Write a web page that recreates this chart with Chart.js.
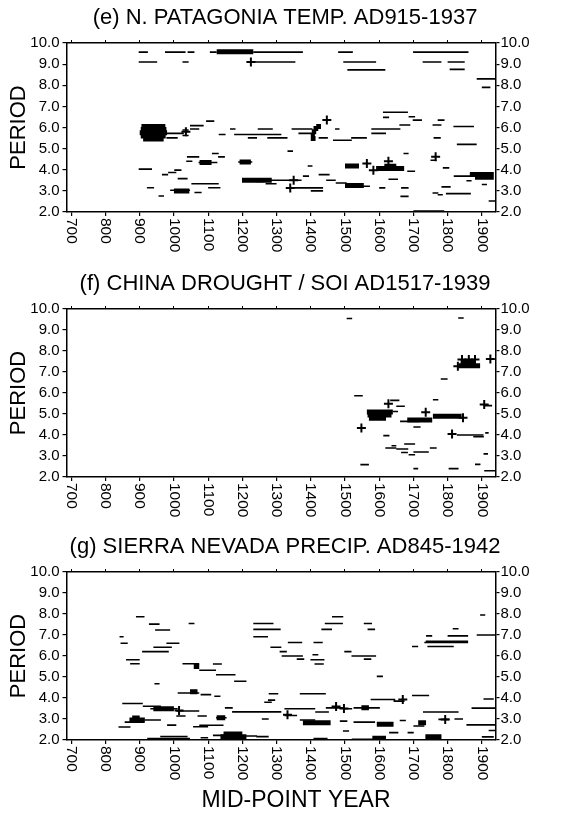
<!DOCTYPE html>
<html><head><meta charset="utf-8">
<script src="https://cdn.jsdelivr.net/npm/chart.js@4.4.1/dist/chart.umd.min.js"></script>
<style>
html,body{margin:0;padding:0;background:#fff;}
body{width:570px;height:815px;position:relative;overflow:hidden;}
canvas{position:absolute;left:0;}
</style></head><body>
<canvas id="cE" width="570" height="266" style="top:0px"></canvas>
<canvas id="cF" width="570" height="263" style="top:266px"></canvas>
<canvas id="cG" width="570" height="286" style="top:529px"></canvas>
<script>
// ---------- axes / labels ----------
const xTickValues = [700,800,900,1000,1100,1200,1300,1400,1500,1600,1700,1800,1900];
const yTickValues = [2,3,4,5,6,7,8,9,10];
const yTickLabels = ['2.0','3.0','4.0','5.0','6.0','7.0','8.0','9.0','10.0'];
const panelTitles = ['(e) N. PATAGONIA TEMP. AD915-1937','(f) CHINA DROUGHT / SOI AD1517-1939','(g) SIERRA NEVADA PRECIP. AD845-1942'];
const yTitle = 'PERIOD';
const xTitle = 'MID-POINT YEAR';

// ---------- panel (e): [startYear, endYear, period] ----------
const eThin = [
 [897,924,9.57],[974,1034,9.57],[1040,1060,9.57],[1105,1125,9.57],[1232,1377,9.57],
 [897,951,9.1],[1025,1043,9.1],[1225,1355,9.1],
 [1480,1523,9.57],[1495,1591,9.1],[1507,1618,8.73],
 [1699,1861,9.57],[1727,1782,9.1],[1800,1850,9.1],[1806,1850,8.75],[1885,1940,8.3],[1900,1925,7.9],
 [978,1029,5.72],[978,1011,5.51],[1025,1043,5.88],[1025,1043,5.62],[1047,1074,5.93],[1047,1087,6.09],[1094,1118,6.3],
 [1164,1180,5.93],[1131,1151,5.67],[1176,1314,5.67],[1216,1243,5.51],[1245,1289,5.93],[1273,1332,5.51],
 [1344,1405,5.93],[1364,1405,5.72],[1423,1450,5.51],[1471,1484,5.93],[1465,1520,5.4],[1518,1564,5.51],
 [1577,1662,5.93],[1577,1620,5.72],[1611,1684,6.72],[1611,1629,6.48],[1686,1705,6.51],[1698,1725,6.35],
 [1659,1691,6.12],[1771,1791,6.35],[1756,1782,6.12],[1817,1877,6.05],[1759,1780,5.51],[1827,1885,5.2],
 [1038,1074,4.61],[1036,1054,4.4],[1072,1127,4.34],[1111,1131,4.77],[1129,1149,4.61],[1188,1229,4.37],
 [897,936,4.03],[965,983,3.77],[983,1007,3.87],[1001,1022,3.98],[1011,1040,3.58],[1051,1131,3.34],
 [1100,1136,3.15],[921,942,3.15],[989,1047,3.03],[1060,1081,2.92],[955,971,2.76],
 [1199,1373,3.5],[1268,1300,3.34],[1377,1395,3.7],[1332,1436,3.14],[1400,1436,3.0],[1423,1455,3.77],
 [1445,1473,3.5],[1473,1505,3.37],[1527,1573,3.22],[1627,1655,3.55],[1600,1618,3.14],[1682,1705,3.93],
 [1671,1686,4.77],[1664,1686,3.14],[1662,1686,2.74],[1750,1768,4.45],[1786,1805,4.09],[1782,1809,3.19],
 [1756,1773,2.9],[1771,1786,2.82],[1795,1868,2.87],[1818,1870,3.7],[1855,1870,3.48],[1900,1915,3.3],
 [1700,1790,2.05],[1920,1940,2.52],[1332,1348,4.88],[1391,1405,4.18],[1240,1262,3.45]
];
const eThick = [
 [1125,1232,9.58],
 [905,975,6.05],[903,978,5.9],[900,980,5.75],[903,976,5.6],[910,970,5.45],
 [1400,1414,5.48],[1400,1412,5.62],[1403,1416,5.8],[1408,1422,5.95],[1416,1430,6.05],
 [1199,1286,3.5],[1500,1541,4.18],[1500,1555,3.26],[1591,1673,4.06],[1615,1650,4.16],
 [1865,1935,3.78],[1880,1935,3.65],[1075,1110,4.34],[1000,1045,3.0],[1192,1225,4.37]
];
const eCross = [[1225,9.1],[1035,5.8],[1447,6.35],[1350,3.5],[1564,4.29],[1583,3.98],[1627,4.4],[1765,4.61],[1340,3.14]];

// ---------- panel (f) ----------
const fThin = [
 [1505,1521,9.55],[1831,1847,9.57],[1780,1800,6.67],[1527,1552,5.87],[1632,1659,5.65],[1650,1675,5.37],
 [1757,1773,5.68],[1661,1718,4.65],[1700,1721,4.38],[1612,1630,3.97],[1827,1905,4.0],[1875,1906,3.92],
 [1910,1920,4.1],[1905,1930,5.4],[1618,1650,3.38],[1636,1650,3.49],[1650,1685,3.33],[1673,1705,3.57],
 [1664,1684,3.17],[1686,1705,3.06],[1700,1745,3.19],[1748,1768,3.38],[1545,1570,2.59],[1700,1714,2.4],
 [1803,1832,2.4],[1880,1896,2.6],[1907,1940,2.3],[1905,1918,3.1],[1640,1655,5.12]
];
const fThick = [
 [1564,1640,5.1],[1566,1636,4.95],[1570,1620,4.8],[1682,1755,4.72],[1757,1841,4.89],
 [1832,1895,7.3],[1838,1880,7.45]
];
const fCross = [[1627,5.49],[1736,5.08],[1548,4.33],[1813,4.05],[1907,5.45],[1845,4.82],[1830,7.27],[1842,7.6],[1862,7.6],[1880,7.6],[1925,7.62]];

// ---------- panel (g) ----------
const gThin = [
 [889,914,7.87],[927,958,7.52],[945,989,7.24],[1043,1060,7.55],[841,853,6.92],[844,865,6.61],
 [907,985,6.21],[940,994,6.42],[978,1016,6.61],[860,900,5.82],[872,900,5.63],[1025,1074,5.63],
 [1074,1123,5.32],[1114,1140,5.62],[1123,1180,5.11],[1176,1212,4.8],[943,958,4.68],[1011,1074,4.24],
 [1078,1109,4.16],[1118,1136,4.08],[1149,1172,3.53],[1170,1314,3.34],[849,909,3.74],[909,962,3.61],
 [931,1011,3.49],[1007,1074,3.38],[1007,1034,3.14],[1069,1096,3.14],[1123,1154,3.06],[838,873,2.62],
 [856,914,2.85],[914,962,2.95],[980,1007,2.71],[1056,1100,2.63],[1074,1145,2.7],[922,1047,2.07],
 [960,1040,2.17],[1078,1100,2.11],[1114,1154,2.22],[1190,1243,2.19],
 [1232,1291,7.55],[1232,1312,7.27],[1232,1275,6.92],[1462,1495,7.87],[1441,1494,7.55],[1431,1462,7.27],
 [1555,1579,7.55],[1566,1588,7.27],[1282,1314,6.42],[1333,1375,6.64],[1408,1435,6.64],[1309,1330,6.21],
 [1315,1377,6.0],[1359,1381,5.85],[1405,1422,6.06],[1399,1440,5.82],[1411,1438,5.62],[1498,1519,6.21],
 [1519,1591,6.0],[1555,1577,5.85],[1593,1611,5.03],[1696,1714,6.45],[1737,1755,6.96],[1800,1860,6.96],
 [1732,1860,6.64],[1736,1860,6.7],[1741,1818,6.45],[1815,1832,7.3],[1895,1910,7.95],[1885,1940,7.0],
 [1277,1305,4.2],[1368,1444,4.2],[1264,1286,3.8],[1275,1296,3.9],[1323,1377,3.49],[1323,1360,3.17],
 [1372,1413,3.49],[1413,1453,3.33],[1444,1494,3.53],[1494,1521,3.49],[1525,1602,3.53],[1575,1647,3.93],
 [1642,1674,3.85],[1696,1746,4.12],[1257,1277,3.0],[1368,1413,2.95],[1485,1507,2.9],[1525,1588,2.85],
 [1660,1678,2.93],[1700,1732,2.67],[1773,1805,2.98],[1728,1832,3.33],[1494,1512,2.43],[1629,1656,2.35],
 [1683,1701,2.35],[1241,1277,2.16],[1408,1449,2.07],[1520,1620,2.03],[1905,1935,3.95],[1870,1940,3.52],
 [1855,1940,2.72],[1920,1940,2.45],[1900,1935,2.15],[1820,1845,3.0]
];
const gThick = [
 [1058,1074,5.5],[1047,1069,4.3],[940,1000,3.49],[870,915,2.95],[878,900,3.05],[1136,1212,2.15],
 [1145,1200,2.28],[1377,1458,2.82],[1548,1570,3.53],[1593,1642,2.75],[1714,1737,2.82],[1735,1782,2.16],
 [1580,1620,2.08],[1125,1150,3.06]
];
const gCross = [[1015,3.4],[1332,3.2],[1474,3.6],[1497,3.5],[1669,3.93],[1793,2.98]];

// ---------- rendering ----------
const FONT = "'Liberation Sans', Arial, Helvetica, sans-serif";
const X_MIN = 686, X_MAX = 1940;
const AREA_LEFT = 66.5, AREA_RIGHT = 495.5, CANVAS_W = 570;

function lineData(segs){
  const out = [];
  segs.forEach(s => { out.push({x:s[0], y:s[2]}, {x:s[1], y:s[2]}, {x:s[1], y:null}); });
  return out;
}

const textPlugin = {
  id: 'textPlugin',
  afterDraw(chart, args, opts){
    const sc = chart.scales.x, ctx = chart.ctx;
    ctx.save();
    ctx.fillStyle = '#000';
    ctx.font = '15.5px ' + FONT;
    ctx.textAlign = 'left';
    ctx.textBaseline = 'middle';
    xTickValues.forEach(v => {
      const px = sc.getPixelForValue(v);
      ctx.save();
      ctx.translate(px, chart.chartArea.bottom + 6);
      ctx.rotate(Math.PI / 2);
      ctx.fillText(String(v), 0, 0);
      ctx.restore();
    });
    if (opts && opts.xTitle) {
      ctx.font = '23px ' + FONT;
      ctx.textAlign = 'center';
      ctx.textBaseline = 'alphabetic';
      ctx.fillText(xTitle, 296, chart.height - 8);
    }
    ctx.restore();
  }
};

function yAxis(pos, withTitle){
  return {
    type:'linear', position:pos, min:2, max:10,
    afterBuildTicks: s => { s.ticks = yTickValues.map(v => ({value:v})); },
    ticks:{ autoSkip:false, callback:(v) => yTickLabels[yTickValues.indexOf(v)], font:{family:FONT,size:15}, color:'#000', padding: pos==='left'?3:1 },
    grid:{ drawOnChartArea:false, drawTicks:true, tickLength:4, color:'#000', lineWidth:1.2 },
    border:{ display:true, color:'#000', width:1.5 },
    title: withTitle ? { display:true, text:yTitle, font:{family:FONT,size:22}, color:'#000', padding:{top:6,bottom:0} } : {display:false},
    afterFit: s => { s.width = pos==='left' ? AREA_LEFT : CANVAS_W - AREA_RIGHT; }
  };
}

function makeChart(id, title, thin, thick, cross, bottomH, showXTitle){
  return new Chart(document.getElementById(id), {
    type:'scatter',
    data:{ datasets:[
      { data:lineData(thin), showLine:true, spanGaps:false, borderColor:'#000', borderWidth:1.6, borderCapStyle:'butt', pointRadius:0, xAxisID:'x', yAxisID:'y' },
      { data:lineData(thick), showLine:true, spanGaps:false, borderColor:'#000', borderWidth:5, borderCapStyle:'butt', pointRadius:0, xAxisID:'x', yAxisID:'y' },
      { data:cross.map(c => ({x:c[0], y:c[1]})), showLine:false, pointStyle:'cross', pointRadius:4.5, pointBorderWidth:2, borderColor:'#000', backgroundColor:'#000', xAxisID:'x', yAxisID:'y' }
    ]},
    options:{
      responsive:false, animation:false, events:[],
      layout:{ padding:0 },
      plugins:{
        legend:{display:false}, tooltip:{enabled:false},
        title:{ display:true, text:title, color:'#000', font:{family:FONT,size:22,weight:'normal',lineHeight:1.2}, padding:{top:5,bottom:4} },
        textPlugin:{ xTitle: showXTitle }
      },
      scales:{
        x:{ type:'linear', position:'bottom', min:X_MIN, max:X_MAX,
            afterBuildTicks: s => { s.ticks = xTickValues.map(v => ({value:v})); },
            ticks:{ display:false },
            grid:{ drawOnChartArea:false, drawTicks:true, tickLength:4, color:'#000', lineWidth:1.2 },
            border:{ display:true, color:'#000', width:1.5 },
            afterFit: s => { s.height = bottomH; } },
        x2:{ type:'linear', position:'top', min:X_MIN, max:X_MAX,
            afterBuildTicks: s => { s.ticks = xTickValues.map(v => ({value:v})); },
            ticks:{ display:false },
            grid:{ drawOnChartArea:false, drawTicks:true, tickLength:3, color:'#000', lineWidth:1 },
            border:{ display:true, color:'#000', width:1.5 },
            afterFit: s => { s.height = 43 - (22*1.2 + 9); } },
        y: yAxis('left', true),
        y2: yAxis('right', false)
      }
    },
    plugins:[textPlugin]
  });
}

makeChart('cE', panelTitles[0], eThin, eThick, eCross, 54, false);
makeChart('cF', panelTitles[1], fThin, fThick, fCross, 52, false);
makeChart('cG', panelTitles[2], gThin, gThick, gCross, 75, true);
</script>
</body></html>
